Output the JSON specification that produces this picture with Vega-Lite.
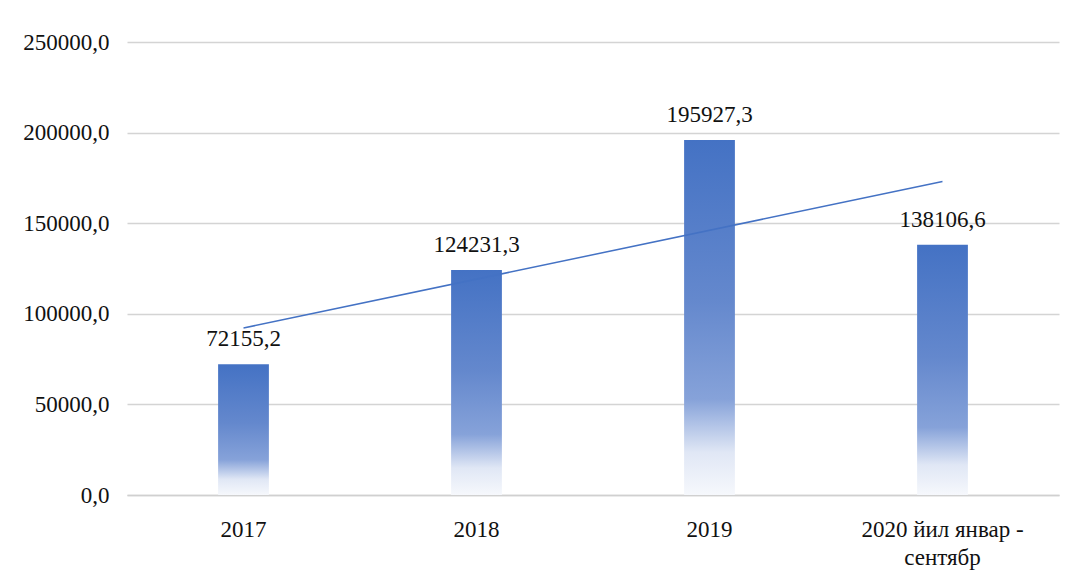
{
  "$schema": "https://vega.github.io/schema/vega-lite/v6.json",
  "autosize": {"type": "none"},
  "width": 932,
  "height": 453,
  "padding": {"left": 127, "top": 42, "right": 7, "bottom": 89},
  "background": "white",
  "config": {
    "locale": {
      "number": {"decimal": ",", "thousands": "", "grouping": [3], "currency": ["", ""]}
    },
    "view": {"stroke": null},
    "font": "Liberation Serif",
    "axis": {
      "labelFont": "Liberation Serif",
      "labelFontSize": 23,
      "labelColor": "#111111",
      "tickSize": 0,
      "ticks": false,
      "title": null
    }
  },
  "data": {
    "values": [
      {"period": "2017", "i": 1, "value": 72155.2},
      {"period": "2018", "i": 2, "value": 124231.3},
      {"period": "2019", "i": 3, "value": 195927.3},
      {"period": "2020 йил январ - сентябр", "i": 4, "value": 138106.6}
    ]
  },
  "layer": [
    {
      "encoding": {
        "x": {
          "field": "period",
          "type": "nominal",
          "sort": null,
          "scale": {"paddingInner": 0.782, "paddingOuter": 0.391},
          "axis": {
            "labelAngle": 0,
            "labelPadding": 23,
            "labelLineHeight": 28,
            "labelLimit": 400,
            "domainColor": "#d0d0d0",
            "domainWidth": 1.5,
            "labelExpr": "split(replace(datum.value, '- ', '-|'), '|')"
          }
        },
        "y": {
          "field": "value",
          "type": "quantitative",
          "scale": {"domain": [0, 250000], "nice": false},
          "axis": {
            "values": [0, 50000, 100000, 150000, 200000, 250000],
            "format": ".1f",
            "labelPadding": 18,
            "domain": false,
            "gridColor": "#d4d4d4",
            "gridWidth": 1.5
          }
        }
      },
      "layer": [
        {
          "mark": {
            "type": "bar",
            "color": {
              "gradient": "linear",
              "x1": 0, "y1": 0, "x2": 0, "y2": 1,
              "stops": [
                {"offset": 0, "color": "#4472C4"},
                {"offset": 0.45, "color": "#6488CD"},
                {"offset": 0.73, "color": "#86A2D9"},
                {"offset": 0.88, "color": "#E0E7F5"},
                {"offset": 1, "color": "#F6F8FC"}
              ]
            }
          }
        },
        {
          "mark": {"type": "text", "baseline": "alphabetic", "dy": -18, "fontSize": 23, "font": "Liberation Serif", "color": "#111111"},
          "encoding": {
            "text": {"field": "value", "type": "quantitative", "format": ".1f"}
          }
        }
      ]
    },
    {
      "transform": [{"regression": "value", "on": "i"}],
      "mark": {"type": "line", "color": "#4472C4", "strokeWidth": 1.5},
      "encoding": {
        "x": {"field": "i", "type": "quantitative", "scale": {"domain": [0.5, 4.5], "nice": false, "zero": false}, "axis": null},
        "y": {"field": "value", "type": "quantitative"}
      }
    }
  ],
  "resolve": {"scale": {"x": "independent"}}
}
